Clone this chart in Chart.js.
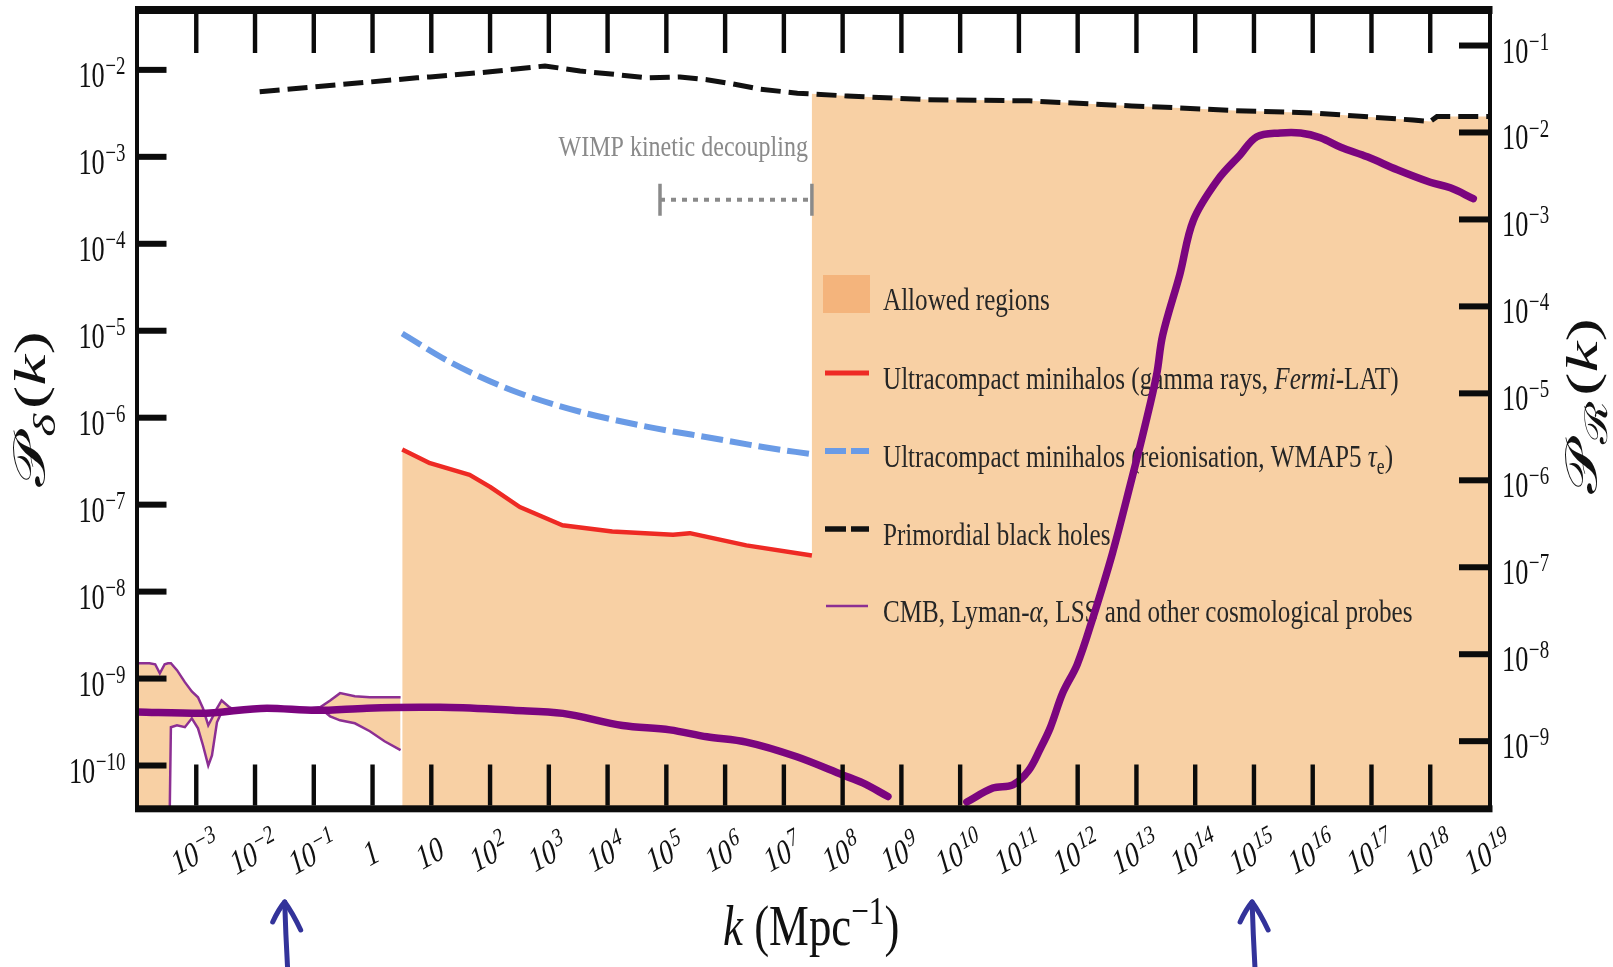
<!DOCTYPE html>
<html>
<head>
<meta charset="utf-8">
<title>Constraints on the primordial power spectrum</title>
<script src="https://cdn.jsdelivr.net/npm/chart.js@4.4.1/dist/chart.umd.min.js"></script>
<style>
  html, body { margin: 0; padding: 0; background: #fff; }
  #wrap { width: 1613px; height: 967px; }
  canvas { display: block; }
</style>
</head>
<body>
<div id="wrap"><canvas id="c" width="1613" height="967"></canvas></div>
<script>
// ---------------------------------------------------------------------------
// Data: k in Mpc^-1, amplitudes of the power spectrum
// ---------------------------------------------------------------------------

// tick exponents
const xLabelExp  = [-3,-2,-1,0,1,2,3,4,5,6,7,8,9,10,11,12,13,14,15,16,17,18,19];
const xTickExp   = [-3,-2,-1,0,1,2,3,4,5,6,7,8,9,10,11,12,13,14,15,16,17,18];
const yLeftExp   = [-10,-9,-8,-7,-6,-5,-4,-3,-2];
const yRightExp  = [-9,-8,-7,-6,-5,-4,-3,-2,-1];

// CMB, Lyman-alpha, LSS band (upper / lower edges, 1e-12 = unbounded below)
const cmbK = [1.0e-4,1.6e-4,2.0e-4,2.4e-4,2.9e-4,3.3e-4,3.7e-4,4.7e-4,6.4e-4,8.4e-4,1.07e-3,1.3e-3,1.6e-3,1.85e-3,2.25e-3,2.7e-3,3.5e-3,4.5e-3,6.7e-3,1.8e-2,5.8e-2,0.13,0.19,0.28,0.5,0.9,1.6,3.0];
const cmbUpper = [1.50e-9,1.50e-9,1.46e-9,1.15e-9,1.46e-9,1.50e-9,1.50e-9,1.25e-9,9.1e-10,7.1e-10,6.1e-10,4.55e-10,2.9e-10,3.5e-10,4.55e-10,5.6e-10,4.8e-10,4.3e-10,4.4e-10,4.55e-10,4.4e-10,4.7e-10,5.6e-10,6.8e-10,6.25e-10,6.1e-10,6.1e-10,6.1e-10];
const cmbLower = [1e-12,1e-12,1e-12,1e-12,1e-12,1e-12,2.76e-10,2.9e-10,2.76e-10,3.49e-10,2.68e-10,1.71e-10,1.0e-10,1.31e-10,3.14e-10,4.09e-10,4.09e-10,4.2e-10,4.43e-10,4.43e-10,4.31e-10,4.55e-10,3.68e-10,3.31e-10,3.06e-10,2.48e-10,1.90e-10,1.50e-10];

// Ultracompact minihalos, gamma rays (Fermi-LAT)
const redK = [3.2, 9.5, 45, 100, 320, 1.7e3, 1.2e4, 1.3e5, 2.5e5, 2.3e6, 3.0e7];
const redP = [4.3e-7, 3.0e-7, 2.2e-7, 1.6e-7, 9.4e-8, 5.8e-8, 4.9e-8, 4.5e-8, 4.7e-8, 3.4e-8, 2.6e-8];

// Ultracompact minihalos, reionisation (WMAP5 tau_e)
const blueK = [3.2, 18, 67, 320, 3.4e3, 4.6e4, 6.2e5, 4.4e6, 3.0e7];
const blueP = [9.3e-6, 4.6e-6, 2.96e-6, 1.91e-6, 1.17e-6, 7.9e-7, 5.8e-7, 4.6e-7, 3.8e-7];

// Primordial black holes
const pbhK = [1.2e-2, 5.7, 9.5, 100, 860, 3.4e3, 1.6e4, 4.7e4, 1.7e5, 4.9e5, 1.36e6, 3.9e6, 1.7e7, 3.0e7, 1.2e8, 2.6e9, 1.5e11, 8.3e12, 5.5e13, 4.6e14, 1.0e16, 5.1e17, 1.0e18, 1.3e18, 1.0e19];
const pbhP = [5.6e-3, 8.1e-3, 8.3e-3, 9.5e-3, 1.11e-2, 9.7e-3, 8.75e-3, 8.1e-3, 8.3e-3, 7.7e-3, 6.9e-3, 6.0e-3, 5.4e-3, 5.3e-3, 5.0e-3, 4.55e-3, 4.4e-3, 3.85e-3, 3.65e-3, 3.4e-3, 3.2e-3, 2.65e-3, 2.55e-3, 2.9e-3, 2.9e-3];

// WIMP kinetic decoupling range
const wimpK = [7.8e4, 3.0e7];
const wimpP = 3.2e-4;

// hand-drawn spectrum, low-k branch
const sketchLowK = [1.0e-4, 1.15e-3, 1.6e-2, 0.11, 0.8, 6.5, 14, 245, 1.74e3, 1.8e4, 1.15e5, 4.9e5, 2.3e6, 1.66e7, 1.0e8, 2.2e8, 5.9e8];
const sketchLowP = [4.13e-10, 3.98e-10, 4.57e-10, 4.31e-10, 4.57e-10, 4.68e-10, 4.68e-10, 4.31e-10, 3.98e-10, 2.88e-10, 2.57e-10, 2.14e-10, 1.86e-10, 1.26e-10, 7.8e-11, 6.3e-11, 4.4e-11];

// hand-drawn spectrum, high-k peak
const sketchHighK = [1.3e10, 3.6e10, 7.9e10, 1.45e11, 2.3e11, 3.4e11, 5.6e11, 9.8e11, 1.8e12, 3.9e12, 7.8e12, 1.4e13, 2.2e13, 2.8e13, 5.5e13, 9.3e13, 2.4e14, 5.8e14, 1.12e15, 2.8e15, 6.2e15, 1.35e16, 3.0e16, 8.5e16, 2.75e17, 1.0e18, 2.2e18, 5.4e18];
const sketchHighP = [3.8e-11, 5.5e-11, 6.0e-11, 8.7e-11, 1.55e-10, 2.7e-10, 6.9e-10, 1.45e-9, 4.9e-9, 2.75e-8, 1.66e-7, 8.1e-7, 3.1e-6, 8.9e-6, 4.5e-5, 1.86e-4, 5.4e-4, 1.05e-3, 1.70e-3, 1.88e-3, 1.88e-3, 1.66e-3, 1.29e-3, 1.0e-3, 7.1e-4, 5.1e-4, 4.4e-4, 3.3e-4];

// arrows under the axis
const arrowK = [0.032, 9.3e14];

// ---------------------------------------------------------------------------
// Styling
// ---------------------------------------------------------------------------
const ORANGE = '#f8d0a4';
const ORANGE_DARK = '#f4b47c';
const RED = '#ee2a24';
const BLUE = '#6a9be6';
const BLACK = '#111111';
const PURPLE_THIN = '#8c2f93';
const PURPLE_THICK = '#7b057f';
const GREY = '#8a8a8a';
const ARROW = '#33339a';
const SERIF = '"Liberation Serif", "DejaVu Serif", serif';
const SX = 0.8;   // horizontal squeeze of all lettering

const pts = (ks, ps) => ks.map((k, i) => ({ x: k, y: Array.isArray(ps) ? ps[i] : ps }));

// allowed region: below the gamma-ray limit, then below the PBH limit
const kCut = redK[redK.length - 1];
const allowedK = redK.concat(pbhK.filter(k => k >= kCut));
const allowedP = redP.concat(pbhP.filter((_, i) => pbhK[i] >= kCut));

// ---------------------------------------------------------------------------
// Rich text helper (sub/superscripts, italics, squeeze, rotation)
// ---------------------------------------------------------------------------
function drawRich(ctx, parts, x, y, o) {
  const size = o.size;
  ctx.save();
  ctx.translate(x, y);
  ctx.scale(o.sx || SX, 1);
  if (o.rot) ctx.rotate(o.rot);
  const fonts = parts.map(p => {
    const s = (p.sub || p.sup) ? size * (o.scriptScale || 0.7) : size;
    return (p.italic ? 'italic ' : '') + s.toFixed(1) + 'px ' + SERIF;
  });
  const widths = parts.map((p, i) => { ctx.font = fonts[i]; return ctx.measureText(p.t).width + (p.gap || 0); });
  const total = widths.reduce((a, b) => a + b, 0);
  let cx = o.align === 'right' ? -total : o.align === 'center' ? -total / 2 : 0;
  ctx.fillStyle = o.color || '#111';
  ctx.textBaseline = 'alphabetic';
  ctx.textAlign = 'left';
  parts.forEach((p, i) => {
    ctx.font = fonts[i];
    let yy = o.dy || 0;
    if (p.sup) yy -= size * (o.supRaise || 0.37);
    if (p.sub) yy += size * 0.22;
    ctx.fillText(p.t, cx, yy);
    cx += widths[i];
  });
  ctx.restore();
}

function sciParts(e) {
  if (e === 0) return [{ t: '1' }];
  if (e === 1) return [{ t: '10' }];
  return [{ t: '10', gap: 1 }, { t: (e < 0 ? '\u2212' : '') + Math.abs(e), sup: true }];
}

function strokeSeg(ctx, x1, x2, y, color, w, dash) {
  ctx.save();
  ctx.strokeStyle = color; ctx.lineWidth = w; ctx.setLineDash(dash || []);
  ctx.lineCap = 'butt';
  ctx.beginPath(); ctx.moveTo(x1, y); ctx.lineTo(x2, y); ctx.stroke();
  ctx.restore();
}

function drawLegend(chart) {
  const ctx = chart.ctx;
  const x0 = 823, x1 = 869, xt = 883;
  const rows = [294, 373, 451, 529, 606];
  ctx.save();
  ctx.fillStyle = ORANGE_DARK;
  ctx.fillRect(x0, rows[0] - 19, 47, 38);
  strokeSeg(ctx, x0 + 2, x1, rows[1], RED, 5);
  strokeSeg(ctx, x0 + 2, x1, rows[2], BLUE, 6, [21, 5]);
  strokeSeg(ctx, x0 + 2, x1, rows[3], BLACK, 5.5, [21, 5]);
  strokeSeg(ctx, x0 + 3, x1 - 1, rows[4], PURPLE_THIN, 2.5);
  const texts = [
    [{ t: 'Allowed regions' }],
    [{ t: 'Ultracompact minihalos (gamma rays, ' }, { t: 'Fermi', italic: true }, { t: '-LAT)' }],
    [{ t: 'Ultracompact minihalos (reionisation, WMAP5 ' }, { t: '\u03C4', italic: true }, { t: 'e', sub: true }, { t: ')' }],
    [{ t: 'Primordial black holes' }],
    [{ t: 'CMB, Lyman-' }, { t: '\u03B1', italic: true }, { t: ', LSS and other cosmological probes' }]
  ];
  texts.forEach((parts, i) => drawRich(ctx, parts, xt, rows[i] + 16, { size: 32, sx: 0.785, color: '#262626' }));
  ctx.restore();
}

function drawArrow(ctx, x) {
  ctx.save();
  ctx.strokeStyle = ARROW; ctx.lineWidth = 5; ctx.lineCap = 'round'; ctx.lineJoin = 'round';
  ctx.beginPath(); ctx.moveTo(x + 3, 970); ctx.quadraticCurveTo(x + 1, 935, x, 902); ctx.stroke();
  ctx.beginPath(); ctx.moveTo(x - 12, 922); ctx.quadraticCurveTo(x - 6, 909, x, 902);
  ctx.quadraticCurveTo(x + 8, 913, x + 16, 930); ctx.stroke();
  ctx.restore();
}

const TICK_FONT = { size: 36, sx: 0.73, scriptScale: 0.72, supRaise: 0.36 };

const decor = {
  id: 'decor',
  beforeDatasetsDraw(chart) { chart.$legendDone = false; },
  beforeDatasetDraw(chart, args) {
    const ds = chart.data.datasets[args.index];
    if (ds.overLegend && !chart.$legendDone) { drawLegend(chart); chart.$legendDone = true; }
  },
  afterDatasetsDraw(chart) {
    const { ctx, scales } = chart;
    // label above the kinetic decoupling range
    const xr = scales.x.getPixelForValue(wimpK[1]);
    const yb = scales.y.getPixelForValue(wimpP);
    drawRich(ctx, [{ t: 'WIMP kinetic decoupling' }], xr - 4, yb - 44, { size: 30, sx: 0.8, align: 'right', color: GREY });
  },
  afterDraw(chart) {
    const { ctx, chartArea: ca, scales } = chart;
    const xs = scales.x, yl = scales.y, yr = scales.yR;
    ctx.save();
    ctx.fillStyle = '#0b0b0b';
    // frame
    ctx.fillRect(ca.left - 2.5, ca.top - 3, ca.right - ca.left + 6, 8);
    ctx.fillRect(ca.left - 2.5, ca.bottom - 3.7, ca.right - ca.left + 6, 7);
    ctx.fillRect(ca.left - 2.5, ca.top - 3, 4, ca.bottom - ca.top + 6);
    ctx.fillRect(ca.right - 1, ca.top - 3, 4, ca.bottom - ca.top + 6);
    // x ticks (inward, top and bottom)
    xTickExp.forEach(e => {
      const px = xs.getPixelForValue(Math.pow(10, e));
      ctx.fillRect(px - 2.2, ca.top + 4, 4.4, 40);
      ctx.fillRect(px - 2.2, ca.bottom - 44.5, 4.4, 41);
    });
    // y ticks
    yLeftExp.forEach(e => {
      const py = yl.getPixelForValue(Math.pow(10, e));
      ctx.fillRect(ca.left + 1, py - 3, 28, 6);
    });
    yRightExp.forEach(e => {
      const py = yr.getPixelForValue(Math.pow(10, e));
      ctx.fillRect(ca.right - 30, py - 3, 29, 6);
    });
    ctx.restore();

    // tick labels
    yLeftExp.forEach(e => {
      const py = yl.getPixelForValue(Math.pow(10, e));
      drawRich(ctx, sciParts(e), ca.left - 12, py + 17, Object.assign({ align: 'right' }, TICK_FONT));
    });
    yRightExp.forEach(e => {
      const py = yr.getPixelForValue(Math.pow(10, e));
      drawRich(ctx, sciParts(e), ca.right + 13, py + 17, Object.assign({ align: 'left' }, TICK_FONT));
    });
    xLabelExp.forEach(e => {
      const px = xs.getPixelForValue(Math.pow(10, e));
      drawRich(ctx, sciParts(e), px - 2, ca.bottom + 42, Object.assign({ align: 'center', rot: -22 * Math.PI / 180, dy: 14 }, TICK_FONT));
    });

    // axis titles
    drawRich(ctx, [{ t: 'k', italic: true }, { t: ' (Mpc' }, { t: '\u22121', sup: true }, { t: ')' }],
      (ca.left + ca.right) / 2 - 2, 945, { size: 56, align: 'center', sx: 0.8 });
    drawRich(ctx, [{ t: '\u{1D4AB}' }, { t: '\u03B4', italic: true, sub: true, gap: 5 }, { t: '(' }, { t: 'k', italic: true }, { t: ')' }],
      45, 409, { size: 70, align: 'center', sx: 0.64, rot: -Math.PI / 2 });
    drawRich(ctx, [{ t: '\u{1D4AB}' }, { t: '\u211B', sub: true, gap: 5 }, { t: '(' }, { t: 'k', italic: true }, { t: ')' }],
      1597, 406, { size: 70, align: 'center', sx: 0.64, rot: -Math.PI / 2 });

    // arrows below the axis
    arrowK.forEach(k => drawArrow(ctx, xs.getPixelForValue(k)));
  }
};

const lineBase = { pointRadius: 0, pointHoverRadius: 0, fill: false, yAxisID: 'y' };

new Chart(document.getElementById('c'), {
  type: 'line',
  data: {
    datasets: [
      Object.assign({}, lineBase, {
        label: 'Sketched spectrum (low k)', data: pts(sketchLowK, sketchLowP),
        borderColor: PURPLE_THICK, borderWidth: 7.5, cubicInterpolationMode: 'monotone',
        borderCapStyle: 'round', borderJoinStyle: 'round', order: 1, overLegend: true
      }),
      Object.assign({}, lineBase, {
        label: 'Sketched spectrum (high k)', data: pts(sketchHighK, sketchHighP),
        borderColor: PURPLE_THICK, borderWidth: 7.5, tension: 0.35,
        borderCapStyle: 'round', borderJoinStyle: 'round', order: 1, overLegend: true
      }),
      Object.assign({}, lineBase, {
        label: 'Primordial black holes', data: pts(pbhK, pbhP),
        borderColor: BLACK, borderWidth: 5, borderDash: [20, 8], tension: 0, order: 5
      }),
      Object.assign({}, lineBase, {
        label: 'Ultracompact minihalos (reionisation, WMAP5)', data: pts(blueK, blueP),
        borderColor: BLUE, borderWidth: 6, borderDash: [22, 7], cubicInterpolationMode: 'monotone', order: 5
      }),
      Object.assign({}, lineBase, {
        label: 'Ultracompact minihalos (gamma rays, Fermi-LAT)', data: pts(redK, redP),
        borderColor: RED, borderWidth: 4.5, tension: 0, borderJoinStyle: 'round', order: 5
      }),
      Object.assign({}, lineBase, {
        label: 'WIMP kinetic decoupling', data: pts(wimpK, wimpP),
        borderColor: GREY, borderWidth: 4, borderDash: [5, 6], tension: 0,
        pointStyle: 'line', pointRotation: 90, pointRadius: 16, pointHoverRadius: 16,
        pointBorderWidth: 3.5, pointBorderColor: GREY, order: 5
      }),
      Object.assign({}, lineBase, {
        label: 'CMB, Lyman-alpha, LSS (upper)', data: pts(cmbK, cmbUpper),
        borderColor: PURPLE_THIN, borderWidth: 2.5, tension: 0, fill: '+1', backgroundColor: ORANGE, order: 9
      }),
      Object.assign({}, lineBase, {
        label: 'CMB, Lyman-alpha, LSS (lower)', data: pts(cmbK, cmbLower),
        borderColor: PURPLE_THIN, borderWidth: 2.5, tension: 0, order: 8
      }),
      Object.assign({}, lineBase, {
        label: 'Allowed regions', data: pts(allowedK, allowedP),
        borderColor: 'rgba(0,0,0,0)', borderWidth: 0, tension: 0, fill: 'start', backgroundColor: ORANGE, order: 10
      })
    ]
  },
  options: {
    responsive: false,
    devicePixelRatio: 1,
    animation: false,
    events: [],
    layout: { autoPadding: false, padding: { left: 137.5, right: 124, top: 9, bottom: 158 } },
    plugins: { legend: { display: false }, tooltip: { enabled: false } },
    scales: {
      x: { type: 'logarithmic', min: 1e-4, max: 1e19, display: false },
      y: { type: 'logarithmic', min: Math.pow(10, -10.5), max: Math.pow(10, -1.3), display: false },
      yR: { type: 'logarithmic', position: 'right', min: Math.pow(10, -9.78), max: Math.pow(10, -0.58), display: false }
    }
  },
  plugins: [decor]
});
</script>
</body>
</html>
